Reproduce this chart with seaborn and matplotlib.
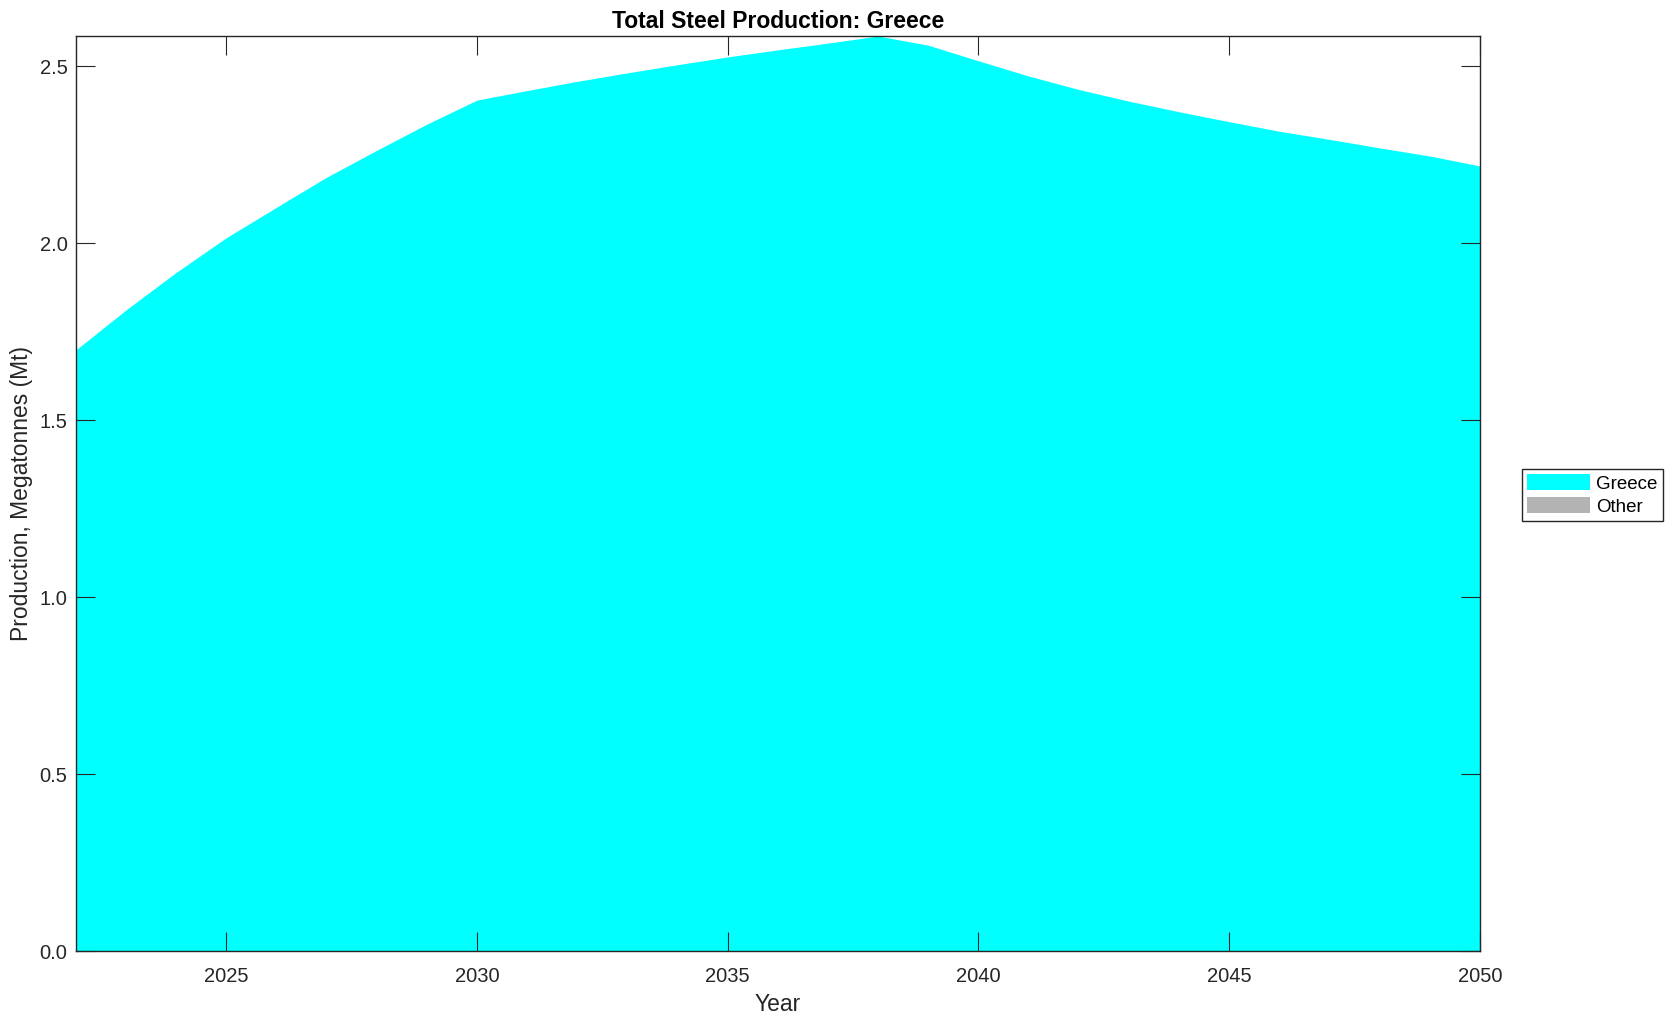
import numpy as np
import pandas as pd
import seaborn as sns
import matplotlib.pyplot as plt

years = list(range(2022, 2051))
greece = [1.699, 1.812, 1.918, 2.016, 2.102, 2.187, 2.263, 2.337, 2.405,
          2.432, 2.458, 2.482, 2.505, 2.527, 2.547, 2.566, 2.586,
          2.560, 2.516, 2.473, 2.435, 2.402, 2.372, 2.344, 2.317,
          2.294, 2.270, 2.247, 2.219]
other = [0.0] * len(years)

series_names = ["Greece", "Other"]
series_colors = ["#00FFFF", "#B3B3B3"]

df = pd.DataFrame({"Year": years, "Greece": greece, "Other": other})

sns.set_theme(style="white")
plt.rcParams['font.family'] = ['Liberation Sans', 'DejaVu Sans']
plt.rcParams['axes.edgecolor'] = '#262626'
plt.rcParams['xtick.color'] = '#262626'
plt.rcParams['ytick.color'] = '#262626'

fig = plt.figure(figsize=(16.79, 10.21), dpi=100)
ax = fig.add_axes([0.0451, 0.0681, 0.8364, 0.8966])

ax.stackplot(df["Year"], df["Greece"], df["Other"],
             colors=series_colors, labels=series_names, linewidth=0)
ax.set_axisbelow(False)  # ticks drawn over the fill

ax.set_xlim(2022, 2050)
ax.set_ylim(0, max(greece))
ax.set_xticks([2025, 2030, 2035, 2040, 2045, 2050])
ax.set_yticks([0.0, 0.5, 1.0, 1.5, 2.0, 2.5])
ax.set_yticklabels([f"{v:.1f}" for v in [0.0, 0.5, 1.0, 1.5, 2.0, 2.5]])

ax.tick_params(axis='both', which='both', direction='in', length=14, width=0.8,
               top=True, right=True, bottom=True, left=True,
               labelsize=14.5, labelcolor='#262626')
ax.tick_params(axis='x', pad=11)
ax.tick_params(axis='y', pad=6)
for s in ax.spines.values():
    s.set_linewidth(1.0)
    s.set_color('#262626')
    s.set_zorder(5)

ax.set_xlabel("Year", fontsize=16.5, color='#262626', labelpad=5.5)
ax.set_ylabel("Production, Megatonnes (Mt)", fontsize=16.5, color='#262626', labelpad=4.7)
ax.set_title("Total Steel Production: Greece", fontsize=16.5, fontweight='bold',
             color='black', pad=6)

leg = ax.legend(loc='center left', bbox_to_anchor=(1.0297, 0.4986), fontsize=13.5,
                frameon=True, fancybox=False, edgecolor='#262626', framealpha=1,
                handlelength=3.36, handleheight=0.9, labelspacing=0.25,
                handletextpad=0.3, borderpad=0.3, borderaxespad=0)
leg.get_frame().set_linewidth(1.0)
for t in leg.get_texts():
    t.set_color('black')

fig.savefig("out.png", dpi=100)
